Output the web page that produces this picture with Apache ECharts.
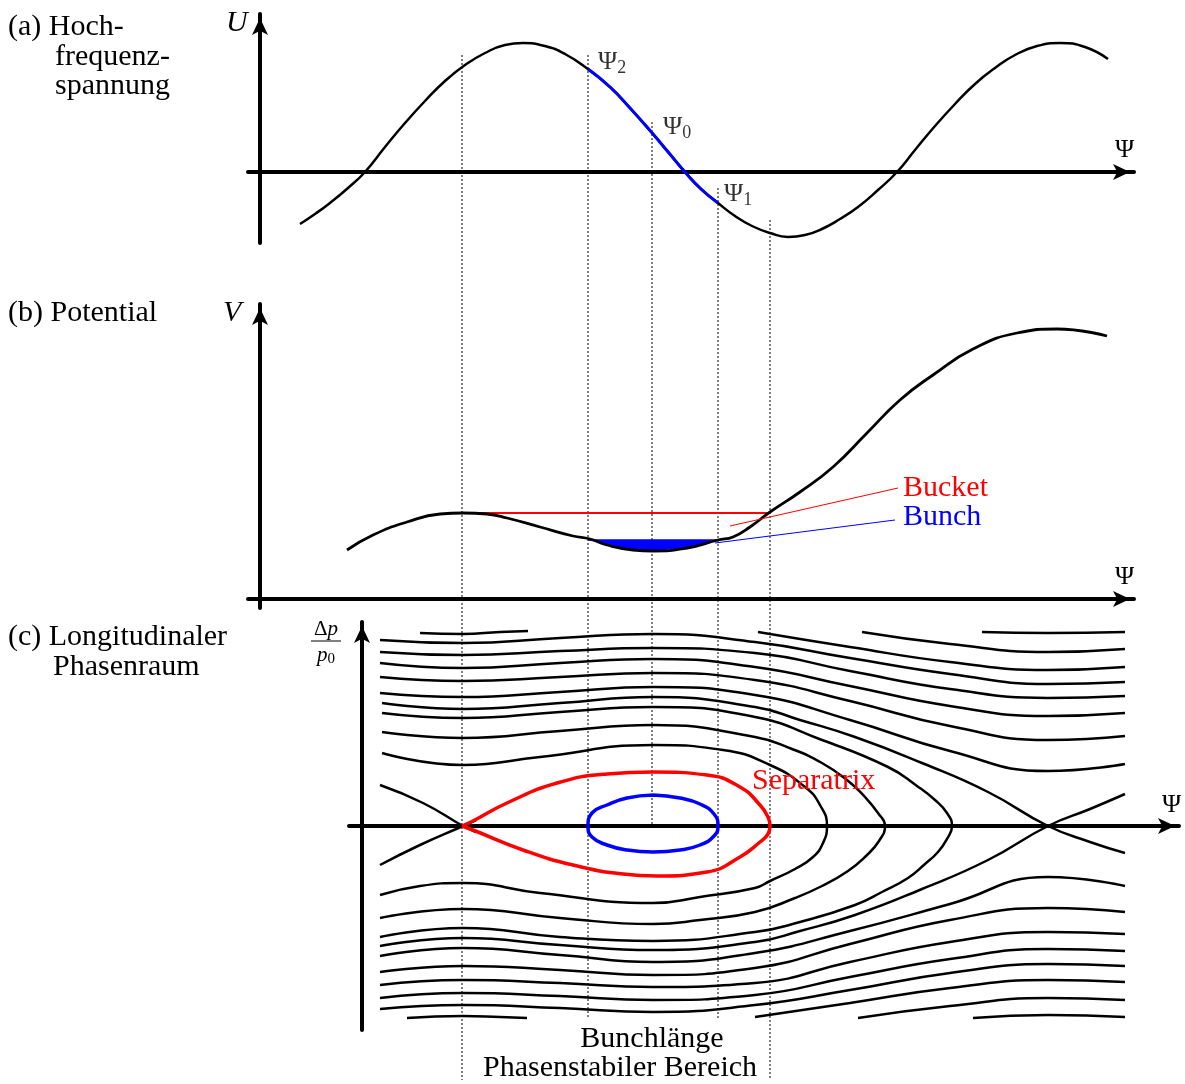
<!DOCTYPE html>
<html>
<head>
<meta charset="utf-8">
<script src="https://cdn.jsdelivr.net/npm/echarts@6/dist/echarts.min.js"></script>
<style>html,body{margin:0;padding:0;background:#fff}#c{width:1185px;height:1084px}</style>
</head>
<body>
<div id="c"></div>
<script>
// ---------- Panel (a): RF voltage U(Psi) ----------
const uPsi = [40,55,70,88,105,125,145,165,185,205,225,245,263,285,305,328,350,370,393,409,425,441,458,475,492,510,528,545,562,580,598,618,637,655,675,695,715,735,755,777,800,825,848];
const uVal = [-52,-42,-31,-16,0,25,49,71,91,107,119,127,129,126,118,103,85,64,38,19,0,-17,-31,-44,-54,-61,-65,-63,-57,-47,-35,-18,0,22,46,68,88,104,117,126,129,125,113];
const psiNames = ['2','0','1'];          // Psi_2, Psi_0, Psi_1
const psiPos = [328, 393, 458];

// ---------- Panel (b): potential V(Psi) ----------
const vPsi = [87,113,147,180,203,227,247,280,313,330,347,373,393,427,458,473,490,510,540,573,607,640,673,713,757,797,847];
const vVal = [49,64,77,85,86,85,81,72,63,60,54,49,48,51,59,62,72,87,107,132,166,199,224,250,266,270,263];
const bucketPsi = [202, 510];
const bucketLevel = 86;
const bunchLevel = 59;
const bucketLeader = [[470,73],[638,111]];
const bunchLeader = [[455,56],[635,79]];

// ---------- Dotted guide lines (Psi, top, bottom in figure units) ----------
const guidePsi = [202, 328, 392, 458, 510];
const guideTop = [55, 55, 122, 188, 220];
const guideBottom = [1080, 1018, 826, 1018, 1080];

// ---------- Panel (c): longitudinal phase space ----------
const cPsi = [18,101,198,291,393,488,588,686,763];
const upper1 = [186,183,188,192,184,168,152,142,144];
const upper2 = [174,171,175,178,173,155,137,128,130];
const upper3 = [163,158,163,167,159,140,120,110,113];
const upper4 = [149,145,149,153,146,125,100,86,90];
const upper5 = [133,129,134,139,131,106,75,55,62];
const lower1 = [-183,-179,-182,-186,-179,-164,-147,-138,-140];
const lower2 = [-172,-167,-170,-174,-169,-151,-133,-123,-125];
const lower3 = [-159,-154,-157,-161,-157,-136,-116,-106,-108];
const lower4 = [-146,-140,-144,-149,-142,-118,-94,-82,-86];
const lower5 = [-130,-122,-129,-136,-127,-105,-78,-51,-60];

const top0 = [[396,194],[488,179],[588,164],[686,156],[763,159]];
const top1 = [[500,194],[588,182],[686,174],[763,177]];
const top2 = [[620,194],[686,193],[763,194]];
const topLeft = [[58,193],[101,192],[138,194],[166,195]];
const bot0 = [[393,-191],[488,-177],[588,-162],[686,-154],[763,-156]];
const bot1 = [[496,-192],[588,-180],[686,-172],[763,-174]];
const bot2 = [[611,-192],[686,-189],[763,-191]];
const botLeft = [[45,-192],[101,-190],[138,-191],[165,-192]];

const sepUpperLeft = [[20,123],[101,117],[198,123],[291,129],[393,119],[438,106],[493,89],[560,63],[626,34],[686,0],[728,-16],[763,-27]];
const sepLowerLeft = [[18,-120],[101,-112],[198,-119],[291,-124],[393,-116],[438,-105],[493,-89],[560,-63],[626,-34],[686,0],[728,17],[763,32]];
const xArmUp = [[18,41],[61,23],[101,0],[114,-6]];
const xArmDown = [[18,-39],[58,-19],[101,0],[114,6]];

const orbit7 = [[20,113],[101,108],[198,114],[291,119],[393,109],[460,86],[526,59],[555,40],[573,26],[585,13],[590,0],[585,-13],[576,-26],[563,-38],[546,-52],[520,-66],[493,-79],[438,-96],[393,-106],[291,-115],[198,-111],[101,-102],[18,-111]];
const orbit8 = [[20,94],[101,88],[198,95],[291,101],[393,89],[430,77],[460,63],[485,46],[503,29],[516,13],[523,0],[517,-15],[504,-30],[486,-45],[460,-60],[433,-72],[393,-86],[338,-94],[291,-98],[198,-92],[101,-83],[18,-92]];
const orbit9 = [[20,73],[101,61],[178,69],[291,81],[361,76],[408,61],[443,39],[458,21],[465,0],[461,-17],[451,-31],[433,-43],[408,-55],[393,-62],[338,-71],[291,-77],[178,-67],[101,-57],[58,-60],[18,-69]];

const separatrix = [[100,0],[111,5],[145,23],[195,43],[245,52],[291,54],[345,51],[378,39],[398,21],[406,9],[408,0],[406,-8],[398,-16],[378,-31],[345,-46],[295,-50],[261,-48],[211,-39],[161,-24],[111,-4],[100,0]];
const bunchOrbit = [[291,31],[318,28],[338,22],[352,12],[356,0],[352,-10],[338,-19],[318,-24],[291,-26],[265,-24],[245,-19],[230,-11],[226,0],[230,13],[245,21],[265,28],[291,31]];

// ---------- helpers ----------
const FONT = '"Liberation Serif", "DejaVu Serif", serif';
const BLACK = '#000000', RED = '#ff0000', BLUE = '#0000ff';
const pairs = (xs, ys) => xs.map((x, i) => [x, ys[i]]);

function axis(grid, min, max, shown, inverse) {
  return {
    type: 'value', gridIndex: grid, min: min, max: max, inverse: !!inverse,
    axisLine: shown ? {show: true, onZero: true, symbol: ['none', 'arrow'], symbolSize: [12, 17], symbolOffset: [0, -4],
      lineStyle: {color: BLACK, width: 4}} : {show: false},
    axisTick: {show: false}, axisLabel: {show: false}, splitLine: {show: false}
  };
}
function curve(grid, data, color, width, z, smooth) {
  return {type: 'line', xAxisIndex: grid, yAxisIndex: grid, data: data, smooth: smooth === undefined ? 0.5 : smooth,
    symbol: 'none', silent: true, clip: false, lineStyle: {color: color, width: width}, z: z || 3};
}

const series = [];
// guides
guidePsi.forEach((p, i) => {
  series.push({type: 'line', xAxisIndex: 3, yAxisIndex: 3, data: [[p, guideTop[i]], [p, guideBottom[i]]],
    symbol: 'none', silent: true, lineStyle: {color: BLACK, width: 1, type: [2, 2]}, z: 1});
});
// panel a
series.push(curve(0, pairs(uPsi, uVal), BLACK, 2.5, 3));
series.push(curve(0, pairs(uPsi, uVal).filter(d => d[0] >= psiPos[0] && d[0] <= psiPos[2]), BLUE, 3, 4));
series.push({
  type: 'scatter', xAxisIndex: 0, yAxisIndex: 0, symbolSize: 0, silent: true, z: 5,
  data: psiPos.map((p, i) => ({value: [p, uVal[uPsi.indexOf(p)]], name: psiNames[i],
    label: {offset: i === 2 ? [6, -9] : [10, -7]}})),
  label: {show: true, position: 'right', distance: 0, color: BLACK,
    formatter: p => '{a|Ψ}{s|' + p.name + '}',
    rich: {a: {fontFamily: FONT, fontSize: 26, lineHeight: 30, color: BLACK},
           s: {fontFamily: FONT, fontSize: 18, lineHeight: 14, verticalAlign: 'bottom', color: BLACK}}}
});
// panel b
const bunchFill = [[psiPos[0], bunchLevel]].concat(pairs(vPsi, vVal).filter(d => d[0] > psiPos[0] && d[0] <= psiPos[2]));
series.push({type: 'line', xAxisIndex: 1, yAxisIndex: 1, data: bunchFill, smooth: false, symbol: 'none', silent: true,
  lineStyle: {width: 0}, areaStyle: {color: BLUE, opacity: 1, origin: bunchLevel}, z: 2});
series.push(curve(1, [[psiPos[0], bunchLevel], [psiPos[2], bunchLevel]], BLUE, 1.5, 3, false));
series.push(curve(1, [[bucketPsi[0], bucketLevel], [bucketPsi[1], bucketLevel]], RED, 2, 3, false));
series.push(curve(1, pairs(vPsi, vVal), BLACK, 2.8, 4));
series.push(Object.assign(curve(1, bucketLeader, RED, 1, 5, false), {
  endLabel: {show: true, formatter: 'Bucket', color: RED, fontFamily: FONT, fontSize: 30, distance: 5}}));
series.push(Object.assign(curve(1, bunchLeader, BLUE, 1, 5, false), {
  endLabel: {show: true, formatter: 'Bunch', color: BLUE, fontFamily: FONT, fontSize: 30, distance: 8, offset: [0, -3]}}));
// panel c
[upper1, upper2, upper3, upper4, upper5, lower1, lower2, lower3, lower4, lower5].forEach(ys => series.push(curve(2, pairs(cPsi, ys), BLACK, 2.5, 3)));
[top0, top1, top2, topLeft, bot0, bot1, bot2, botLeft, sepUpperLeft, sepLowerLeft, xArmUp, xArmDown, orbit7, orbit8, orbit9]
  .forEach(d => series.push(curve(2, d, BLACK, 2.5, 3)));
series.push(curve(2, separatrix, RED, 3.5, 5));
series.push(curve(2, bunchOrbit, BLUE, 3.5, 5));

function txt(x, y, text, opts) {
  return {type: 'text', x: x, y: y, z: 10, silent: true,
    style: Object.assign({text: text, fill: BLACK, fontFamily: FONT, fontSize: 30, align: 'left', verticalAlign: 'middle'}, opts || {})};
}
const richFrac = {n: {fontFamily: FONT, fontSize: 21, lineHeight: 24}, i: {fontFamily: FONT, fontSize: 21, fontStyle: 'italic', lineHeight: 24},
  s: {fontFamily: FONT, fontSize: 15, lineHeight: 12, verticalAlign: 'bottom'}};
const richPsi = {a: {fontFamily: FONT, fontSize: 26, lineHeight: 30}};
const graphics = [
  txt(8, 27, '(a) Hoch-'), txt(55, 57, 'frequenz-'), txt(55, 86, 'spannung'),
  txt(226, 23, 'U', {fontStyle: 'italic'}),
  txt(8, 313, '(b) Potential'), txt(223, 313, 'V', {fontStyle: 'italic'}),
  txt(8, 637, '(c) Longitudinaler'), txt(53, 667, 'Phasenraum'),
  txt(652, 1039, 'Bunchlänge', {align: 'center'}),
  txt(620, 1068, 'Phasenstabiler Bereich', {align: 'center'}),
  txt(752, 781, 'Separatrix', {fill: RED}),
  txt(1115, 150, '{a|Ψ}', {rich: richPsi}),
  txt(1115, 577, '{a|Ψ}', {rich: richPsi}),
  txt(1162, 805, '{a|Ψ}', {rich: richPsi}),
  txt(326, 629, '{n|Δ}{i|p}', {rich: richFrac, align: 'center'}),
  {type: 'line', z: 10, silent: true, shape: {x1: 311, y1: 641, x2: 341, y2: 641}, style: {stroke: BLACK, lineWidth: 1}},
  txt(326, 655, '{i|p}{s|0}', {rich: richFrac, align: 'center'})
];

const chart = echarts.init(document.getElementById('c'), null, {renderer: 'canvas', width: 1185, height: 1084});
chart.setOption({
  animation: false,
  backgroundColor: '#ffffff',
  grid: [
    {left: 248, top: 14, width: 886, height: 229},
    {left: 248, top: 304, width: 886, height: 304},
    {left: 349, top: 622, width: 830, height: 408},
    {left: 248, top: 0, width: 886, height: 1084}
  ],
  xAxis: [axis(0, -12, 874, true), axis(1, -12, 874, true), axis(2, -13, 817, true), axis(3, -12, 874, false)],
  yAxis: [axis(0, -71, 158, true), axis(1, -9, 295, true), axis(2, -204, 204, true), axis(3, 0, 1084, false, true)],
  series: series,
  graphic: graphics
});
</script>
</body>
</html>
